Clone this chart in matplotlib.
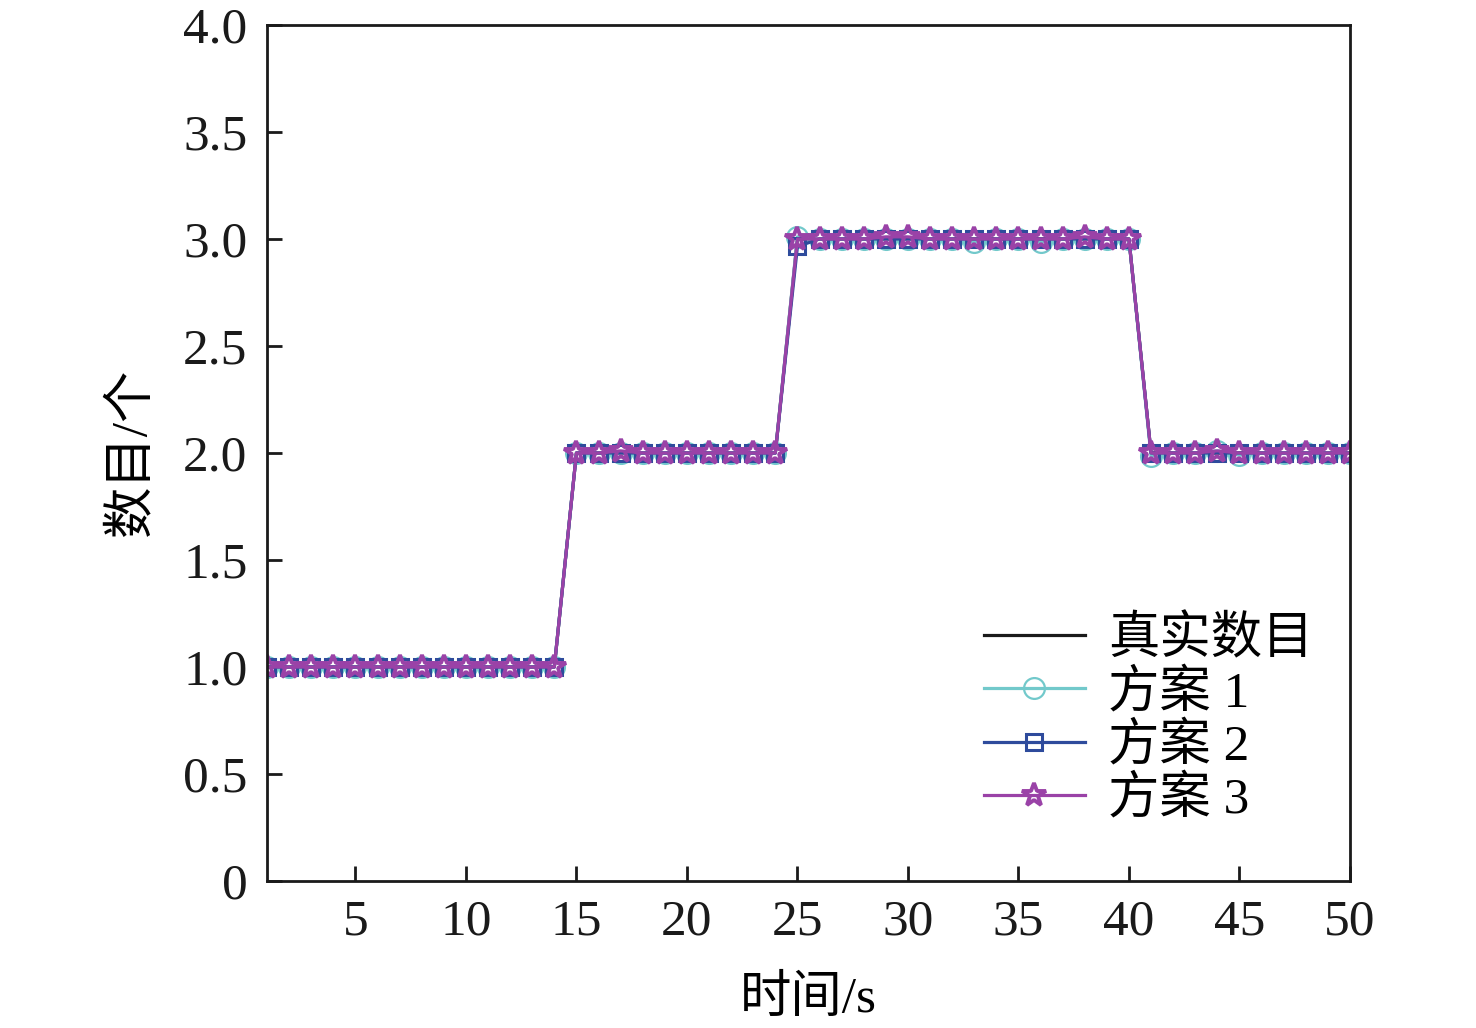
import matplotlib
matplotlib.use("Agg")
import matplotlib.pyplot as plt
import numpy as np

plt.rcParams['font.family'] = ['Liberation Serif', 'Noto Sans CJK SC', 'DejaVu Sans']
plt.rcParams['mathtext.fontset'] = 'stix'

# time axis (s)
t = np.arange(1, 51)

# true count per second
true_count = [1] * 14 + [2] * 10 + [3] * 16 + [2] * 10

# scheme estimates (small deviations only)
scheme1 = [1.0] * 14 + [2.0] * 10 + [3.0] * 16 + [2.0] * 10
scheme2 = [1.0] * 14 + [2.0] * 10 + [3.0] * 16 + [2.0] * 10
scheme3 = [1.0] * 14 + [2.0] * 10 + [3.0] * 16 + [2.0] * 10
scheme1[24] = 3.01
scheme1[32] = 2.985
scheme1[35] = 2.985
scheme1[40] = 1.985
scheme1[43] = 2.01
scheme1[44] = 1.99
scheme2[24] = 2.965
scheme3[16] = 2.01
scheme3[28] = 3.01
scheme3[29] = 3.01
scheme3[37] = 3.01
scheme3[43] = 2.01

labels = ['真实数目', '方案 1', '方案 2', '方案 3']
colors = ['#1a1a1a', '#72c9cb', '#2e4b9c', '#9a42a7']

fig = plt.figure(figsize=(14.76, 10.28), dpi=100)
ax = fig.add_axes([0.1809, 0.143, 0.7337, 0.8327])

ax.plot(t, true_count, color=colors[0], lw=2.3, label=labels[0])
ax.plot(t, scheme1, color=colors[1], lw=2.3, marker='o', ms=15,
        mfc='none', mec=colors[1], mew=1.6, label=labels[1])
ax.plot(t, scheme2, color=colors[2], lw=2.3, marker='s', ms=12,
        mfc='none', mec=colors[2], mew=2.2, label=labels[2])
ax.plot(t, scheme3, color=colors[3], lw=2.3, marker='*', ms=17.5,
        mfc='none', mec=colors[3], mew=2.8, label=labels[3])

ax.set_xlim(1, 50)
ax.set_ylim(0, 4)
ax.set_xticks([5, 10, 15, 20, 25, 30, 35, 40, 45, 50])
ax.set_yticks([0, 0.5, 1.0, 1.5, 2.0, 2.5, 3.0, 3.5, 4.0])
ax.set_yticklabels(['0', '0.5', '1.0', '1.5', '2.0', '2.5', '3.0', '3.5', '4.0'])
ax.tick_params(direction='in', length=11, width=2, labelsize=37, pad=14, colors='#1a1a1a')
ax.tick_params(axis='x', pad=13)
for s in ax.spines.values():
    s.set_linewidth(2)
    s.set_color('#1a1a1a')

ax.set_xlabel('时间/s', fontsize=37, labelpad=22)
ax.set_ylabel('数目/个', fontsize=37, labelpad=20)

ax.legend(loc='lower right', bbox_to_anchor=(0.985, 0.043), frameon=False,
          fontsize=37, handlelength=1.95, handletextpad=0.45,
          labelspacing=0.1, borderaxespad=0)

fig.savefig('out.png', dpi=100)
